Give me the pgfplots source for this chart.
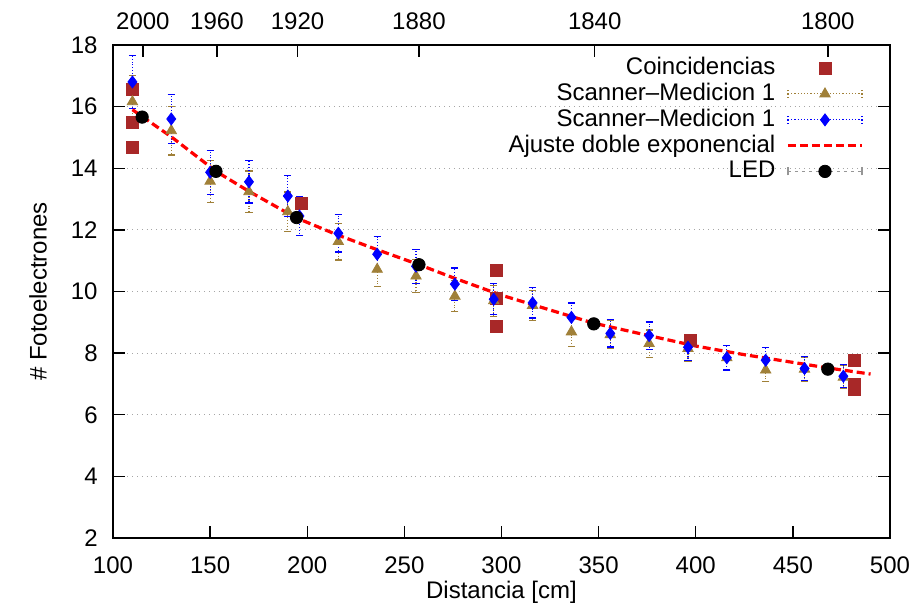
\documentclass[border=0pt]{standalone}
\usepackage{fontspec}
\setmainfont{Liberation Sans}
\usepackage{pgfplots}
\usepackage{pgfplotstable}
\pgfplotsset{compat=1.18}
\definecolor{coinc}{RGB}{168,40,40}
\definecolor{scanA}{RGB}{160,128,56}
\definecolor{ledgray}{RGB}{150,150,150}

\pgfplotstableread{
x y e
110 16.16 0.84
130 15.22 0.79
150 13.58 0.68
170 13.24 0.67
190 12.59 0.64
216 11.62 0.60
236 10.72 0.56
256 10.50 0.54
276 9.85 0.51
296 9.70 0.50
316 9.55 0.49
336 8.69 0.47
356 8.60 0.45
376 8.31 0.44
396 8.15 0.42
416 7.85 0.41
436 7.45 0.38
456 7.48 0.39
476 7.22 0.37
}\scanA

\pgfplotstableread{
x y e
110 16.80 0.86
130 15.60 0.79
150 13.87 0.71
170 13.56 0.69
190 13.10 0.67
196 12.45 0.63
216 11.89 0.61
236 11.21 0.57
256 10.82 0.55
276 10.24 0.52
296 9.75 0.50
316 9.63 0.49
336 9.16 0.47
356 8.64 0.44
376 8.57 0.44
396 8.19 0.42
416 7.85 0.40
436 7.77 0.40
456 7.50 0.38
476 7.25 0.37
}\scanB

\begin{document}
\fontsize{12}{14}\selectfont
\begin{tikzpicture}
\path[use as bounding box] (-56.5pt,-34.5pt) rectangle (401.5pt,269pt);
\begin{axis}[
  scale only axis, width=388.5pt, height=246.5pt,
  xmin=100, xmax=500, ymin=2, ymax=18,
  xtick={100,150,...,500}, ytick={2,4,...,18},
  xtick pos=left, ytick pos=both,
  tick align=inside,
  major tick length=6pt,
  every tick/.style={black, line width=0.7pt},
  axis line style={line width=0.9pt},
  ymajorgrids, grid style={gray!70, dotted, line width=0.6pt},
  /pgf/number format/assume math mode=true,
  tick label style={font=\fontsize{12}{14}\selectfont},
  xticklabel style={yshift=-5pt},
  yticklabel style={xshift=-3.5pt},
  xlabel={Distancia [cm]}, ylabel={\# Fotoelectrones},
  label style={font=\fontsize{12}{14}\selectfont},
  x label style={at={(axis description cs:0.5,-0.1095)}, anchor=center},
  y label style={at={(axis description cs:-0.0965,0.5)}, anchor=center},
  legend plot pos=right, legend cell align=right,
  legend image code/.code={\draw[mark repeat=2,mark phase=2] plot coordinates {(0pt,0pt) (18.5pt,0pt) (37pt,0pt)};},
  legend style={draw=none, fill=none, at={(rel axis cs:1,1)}, anchor=north east,
    xshift=-10pt, yshift=-2pt, font=\fontsize{12}{14}\selectfont, row sep=-1.5pt,
    /tikz/every odd column/.append style={column sep=3.5pt}},
]
\addplot[only marks, mark=square*, mark size=3pt, color=coinc] coordinates {
(110,16.56) (110,15.48) (110,14.68) (197,12.86)
(297.5,10.70) (297.5,9.78) (297.5,8.87) (397.5,8.42)
(481.5,7.75) (481.5,6.98) (481.5,6.83)};
\addlegendentry{Coincidencias}

\addplot[only marks, mark=triangle*, mark size=3pt, color=scanA, mark options={solid},
  legend image code/.code={
    \draw[densely dotted, line width=0.6pt] (0pt,0pt) -- (37pt,0pt);
    \draw[densely dotted, line width=0.6pt] (0pt,-2pt) -- (0pt,2pt) (37pt,-2pt) -- (37pt,2pt);
    \draw plot coordinates {(18.5pt,0pt)};},
  error bars/.cd, y dir=both, y explicit,
  error bar style={densely dotted, line width=0.6pt},
  error mark options={rotate=90, mark size=1.8pt, line width=0.6pt, solid}]
  table[x=x, y=y, y error=e] {\scanA};
\addlegendentry{Scanner--Medicion 1}

\addplot[only marks, mark=diamond*, mark size=3pt, color=blue, mark options={solid},
  legend image code/.code={
    \draw[densely dotted, line width=0.6pt] (0pt,0pt) -- (37pt,0pt);
    \draw[densely dotted, line width=0.6pt] (0pt,-2pt) -- (0pt,2pt) (37pt,-2pt) -- (37pt,2pt);
    \draw plot coordinates {(18.5pt,0pt)};},
  error bars/.cd, y dir=both, y explicit,
  error bar style={densely dotted, line width=0.6pt},
  error mark options={rotate=90, mark size=1.8pt, line width=0.6pt, solid}]
  table[x=x, y=y, y error=e] {\scanB};
\addlegendentry{Scanner--Medicion 1}

\addplot[no marks, color=red, line width=1.6pt, dash pattern=on 4pt off 2pt] coordinates {
(110,15.90) (115,15.68) (130,15.02) (150,14.05) (153,13.90) (170,13.25)
(194,12.40) (215,11.85) (235,11.38) (258,10.86) (275,10.45) (300,9.88)
(325,9.40) (347,8.98) (375,8.58) (400,8.23) (425,7.95) (450,7.70)
(468,7.52) (490,7.32)};
\addlegendentry{Ajuste doble exponencial}

\addplot[only marks, mark=*, mark size=3.1pt, color=black,
  legend image code/.code={
    \draw[ledgray, dash pattern=on 1.5pt off 2pt, line width=0.6pt] (0pt,0pt) -- (37pt,0pt);
    \draw[ledgray, line width=0.6pt] (0pt,-2pt) -- (0pt,2pt) (37pt,-2pt) -- (37pt,2pt);
    \draw plot coordinates {(18.5pt,0pt)};}]
  coordinates {(115,15.66) (153,13.90) (194.5,12.40) (257.5,10.87) (347.5,8.95) (468,7.48)};
\addlegendentry{LED}
\end{axis}

\begin{axis}[
  scale only axis, width=388.5pt, height=246.5pt,
  xmin=100, xmax=500, ymin=2, ymax=18,
  hide y axis, axis x line*=top,
  axis line style={-, line width=0.9pt},
  xtick={115.4,153.5,195,257.5,348,468},
  xticklabels={2000,1960,1920,1880,1840,1800},
  tick align=inside, major tick length=6pt,
  every tick/.style={black, line width=0.7pt},
  /pgf/number format/assume math mode=true,
  xticklabel style={yshift=3.5pt, font=\fontsize{12}{14}\selectfont},
]
\addplot[draw=none] coordinates {(100,2) (500,18)};
\end{axis}
\end{tikzpicture}
\end{document}
